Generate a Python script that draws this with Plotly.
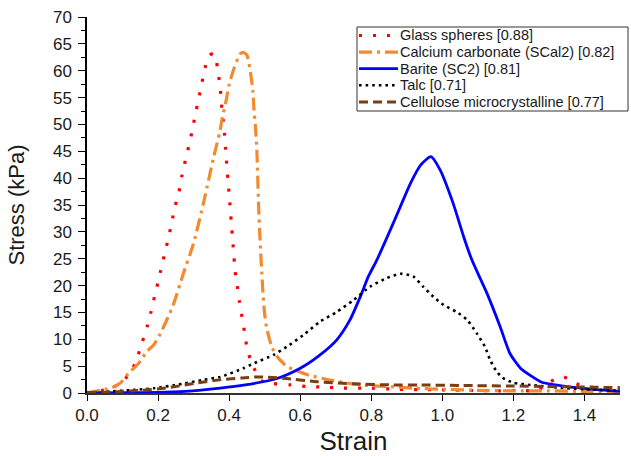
import plotly.graph_objects as go

# ---------------- data ----------------
glass_x = [0, 0.05, 0.093, 0.126, 0.143, 0.156, 0.169, 0.18, 0.19, 0.2, 0.21, 0.22, 0.23, 0.239,
           0.248, 0.259, 0.267, 0.286, 0.296, 0.304, 0.313, 0.322, 0.33, 0.344, 0.355, 0.362,
           0.369, 0.375, 0.378, 0.383, 0.387, 0.39, 0.40, 0.41, 0.417, 0.423, 0.429, 0.436,
           0.443, 0.45, 0.462, 0.477, 0.49, 0.52, 0.574, 0.62, 0.67, 0.72, 0.8, 0.87, 0.97,
           1.06, 1.16, 1.22, 1.265, 1.3, 1.34, 1.375, 1.405, 1.45, 1.5]
glass_y = [0, 0.6, 1.7, 4.2, 6.9, 9.6, 12.3, 15.1, 17.9, 20.7, 23.5, 26.3, 29.1, 31.9,
           34.8, 37.5, 40.4, 45.9, 48.8, 51.6, 54.4, 57.2, 60, 62.8, 63.2, 62.5,
           59.6, 56.9, 54, 51, 48.3, 45.4, 37, 28.5, 22.6, 19.9, 17, 14.2,
           11.5, 8.5, 5.8, 3.7, 2.3, 1.8, 1.5, 1.2, 1.1, 0.9, 0.9, 0.7, 0.6,
           0.5, 0.4, 0.5, 0.4, 2.0, 3.0, 1.8, 1.2, 0.9, 0.8]

caco3_x = [0, 0.051, 0.07, 0.093, 0.117, 0.145, 0.168, 0.187, 0.203, 0.241, 0.27, 0.3, 0.33,
           0.356, 0.362, 0.373, 0.381, 0.392, 0.4, 0.412, 0.431, 0.44, 0.45, 0.462, 0.467,
           0.47, 0.474, 0.478, 0.483, 0.487, 0.492, 0.498, 0.505, 0.52, 0.535, 0.553, 0.563,
           0.62, 0.693, 0.77, 0.845, 0.92, 1.0, 1.1, 1.2, 1.3, 1.4, 1.5]
caco3_y = [0, 0.7, 1.0, 1.8, 3.7, 5.5, 7.7, 8.9, 10.6, 16.1, 22, 27.9, 36,
           43.8, 45.4, 48.4, 51.3, 54.6, 57.4, 60.1, 63.1, 63.4, 62.9, 58.8, 56.1,
           52.7, 49.6, 45.2, 34.7, 28.5, 22.3, 16, 12.3, 8.6, 6.8, 5.5, 4.9,
           3.4, 2.3, 1.5, 1.2, 0.9, 0.7, 0.5, 0.4, 0.4, 0.3, 0.3]

barite_x = [0, 0.1, 0.2, 0.276, 0.375, 0.445, 0.535, 0.6, 0.656, 0.703, 0.74, 0.769, 0.792,
            0.816, 0.85, 0.88, 0.91, 0.94, 0.968, 0.994, 1.03, 1.06, 1.083, 1.126, 1.163,
            1.19, 1.22, 1.24, 1.28, 1.35, 1.445, 1.5]
barite_y = [0, 0.05, 0.1, 0.3, 0.9, 1.5, 2.7, 4.6, 7.1, 9.9, 13.6, 17.9, 21.7,
            24.8, 29.8, 34.4, 39, 42.5, 44, 41.5, 35.4, 29.1, 24.8, 18.5, 12.3,
            7.4, 4.6, 3.6, 2.0, 1.2, 0.6, 0.3]

talc_x = [0, 0.05, 0.135, 0.19, 0.267, 0.323, 0.375, 0.44, 0.469, 0.525, 0.562, 0.609, 0.656,
          0.703, 0.75, 0.797, 0.844, 0.882, 0.918, 0.946, 0.975, 1.003, 1.04, 1.07, 1.097,
          1.12, 1.135, 1.15, 1.168, 1.2, 1.248, 1.327, 1.4, 1.5]
talc_y = [0, 0.2, 0.6, 0.9, 1.7, 2.4, 3.0, 4.6, 5.5, 7.1, 8.6, 10.8, 13.3,
          15.1, 17.3, 19.8, 21.4, 22.2, 21.7, 19.8, 17.9, 16.4, 15.1, 13.6, 11.1,
          8.6, 6.1, 4.3, 2.9, 1.9, 1.5, 1.0, 0.7, 0.4]

cell_x = [0, 0.087, 0.154, 0.229, 0.304, 0.379, 0.435, 0.487, 0.562, 0.647, 0.75, 0.863,
          0.937, 1.05, 1.2, 1.3, 1.4, 1.5]
cell_y = [0, 0.25, 0.5, 1.0, 1.8, 2.5, 2.8, 3.0, 2.7, 2.1, 1.7, 1.5,
          1.5, 1.4, 1.3, 1.2, 1.1, 1.0]

names = ["Glass spheres [0.88]", "Calcium carbonate (SCal2) [0.82]", "Barite (SC2) [0.81]",
         "Talc [0.71]", "Cellulose microcrystalline [0.77]"]

x_ticks = [0.0, 0.2, 0.4, 0.6, 0.8, 1.0, 1.2, 1.4]
x_tick_labels = ["0.0", "0.2", "0.4", "0.6", "0.8", "1.0", "1.2", "1.4"]
y_ticks = list(range(0, 71, 5))

# ---------------- figure ----------------
W, H = 631, 456
ML, MR, MT, MB = 87, 11, 17, 63
PW, PH = W - ML - MR, H - MT - MB


def px_x(p):  # pixel -> paper x
    return (p - ML) / PW


def px_y(p):  # pixel -> paper y
    return (H - MB - p) / PH


fig = go.Figure()
styles = [
    dict(color="#FF0000", width=3.2, dash="3px,11px"),
    dict(color="#F28A30", width=3.2, dash="13px,5px,3px,5px"),
    dict(color="#0000FF", width=2.8, dash="solid"),
    dict(color="#000000", width=2.6, dash="2.6px,4px"),
    dict(color="#7A3E12", width=3, dash="9px,5px"),
]
series = [(glass_x, glass_y), (caco3_x, caco3_y), (barite_x, barite_y),
          (talc_x, talc_y), (cell_x, cell_y)]
for (xs, ys), nm, ln in zip(series, names, styles):
    fig.add_trace(go.Scatter(x=xs, y=ys, mode="lines", name=nm, showlegend=False,
                             line=dict(shape="spline", smoothing=0.6, **ln)))

# legend box drawn like the reference (tight row spacing)
shapes = [dict(type="rect", xref="paper", yref="paper",
               x0=px_x(357), x1=px_x(628), y0=px_y(111), y1=px_y(27),
               line=dict(color="#333333", width=1), fillcolor="white", layer="above")]
annotations = []
row0, row_step = 35.5, 16.6
for i, (nm, ln) in enumerate(zip(names, styles)):
    yy = px_y(row0 + i * row_step)
    shapes.append(dict(type="line", xref="paper", yref="paper",
                       x0=px_x(359), x1=px_x(398), y0=yy, y1=yy,
                       line=dict(color=ln["color"], width=ln["width"], dash=ln["dash"]),
                       layer="above"))
    annotations.append(dict(text=nm, xref="paper", yref="paper", x=px_x(399), y=yy,
                            xanchor="left", yanchor="middle", showarrow=False,
                            height=16, borderpad=0, valign="middle",
                            font=dict(size=14.5, color="#1a1a1a")))

fig.update_layout(
    width=W, height=H,
    margin=dict(l=ML, r=MR, t=MT, b=MB),
    paper_bgcolor="white", plot_bgcolor="white",
    font=dict(family="Liberation Sans, Arial, sans-serif", color="#1a1a1a"),
    showlegend=False,
    shapes=shapes, annotations=annotations,
    xaxis=dict(range=[0, 1.5], tickvals=x_ticks, ticktext=x_tick_labels,
               showgrid=False, zeroline=False, showline=True, linecolor="#333333",
               linewidth=2, ticks="outside", ticklen=6, tickcolor="#000000",
               tickfont=dict(size=17), automargin=False,
               title=dict(text="Strain", font=dict(size=26), standoff=13)),
    yaxis=dict(range=[0, 70], tickvals=y_ticks, showgrid=False, zeroline=False,
               showline=True, linecolor="#000000", linewidth=1.5, ticks="outside",
               ticklen=7, tickcolor="#000000", tickfont=dict(size=17), automargin=False,
               ticklabelstandoff=3,
               minor=dict(ticks="outside", ticklen=4, dtick=2.5, tickcolor="#000000"),
               title=dict(text="Stress (kPa)", font=dict(size=22), standoff=22)),
)

fig.write_html("out.html", config={"displayModeBar": False},
               post_script="document.body.style.margin='0';document.body.style.overflow='hidden';")
